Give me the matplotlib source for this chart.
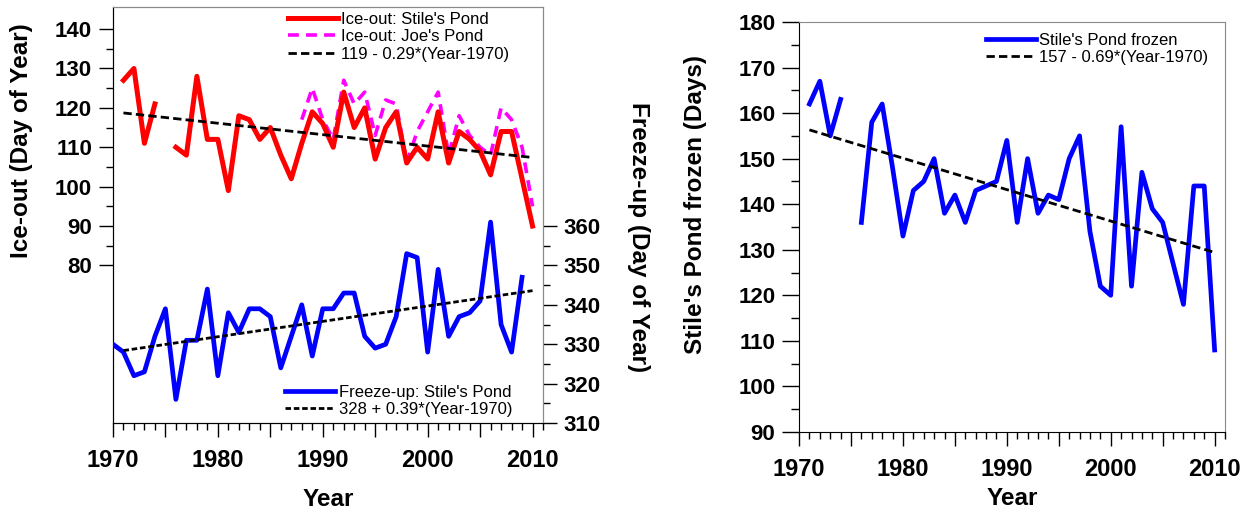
import numpy as np
import matplotlib
matplotlib.use("Agg")
import matplotlib.pyplot as plt
from matplotlib.ticker import MultipleLocator, FixedLocator, FuncFormatter

plt.rcParams['font.family'] = ['Liberation Sans', 'DejaVu Sans']

# ---- data ----
ice_years = np.arange(1971, 2011)
# ice-out, Stile's Pond (day of year); 1975 missing
stiles_ice = [127, 130, 111, 121, np.nan, 110, 108, 128, 112, 112,
              99, 118, 117, 112, 115, 108, 102, 111, 119, 116,
              110, 124, 115, 120, 107, 115, 119, 106, 110, 107,
              119, 106, 114, 112, 109, 103, 114, 114, 102, 90]
joes_years = np.arange(1988, 2011)
joes_ice = [117, 125, 117, 112, 127, 121, 124, 113, 122, 121,
            106, 114, 119, 124, 108, 118, 113, 110, 108, 120,
            117, 110, 95]

freeze_years = np.arange(1970, 2010)
# freeze-up, Stile's Pond (day of year)
stiles_freeze = [330, 328, 322, 323, 332, 339, 316, 331, 331, 344,
                 322, 338, 333, 339, 339, 337, 324, 332, 340, 327,
                 339, 339, 343, 343, 332, 329, 330, 337, 353, 352,
                 328, 349, 332, 337, 338, 341, 361, 335, 328, 347]

# days frozen, Stile's Pond; 1975 missing
stiles_frozen = [162, 167, 155, 163, np.nan, 136, 158, 162, 148, 133,
                 143, 145, 150, 138, 142, 136, 143, 144, 145, 154,
                 136, 150, 138, 142, 141, 150, 155, 134, 122, 120,
                 157, 122, 147, 139, 136, 127, 118, 144, 144, 108]

# linear fits quoted in the legends
ice_fit = (119, -0.29)
freeze_fit = (328, 0.39)
frozen_fit = (157, -0.69)
fit_years = np.array([1971, 2010])

XTICK_FS = 17
YTICK_FS = 16
LAB_FS = 17.5
LEG_FS = 12
GREY = '#8a8a8a'


def style_x(ax, label_y):
    ax.set_xlim(1970, 2011)
    ax.xaxis.set_major_locator(MultipleLocator(5))
    ax.xaxis.set_minor_locator(MultipleLocator(1))
    ax.xaxis.set_major_formatter(FuncFormatter(
        lambda v, p: '%d' % v if int(round(v)) % 10 == 0 else ''))
    ax.tick_params(axis='x', which='major', length=10, width=1, direction='out',
                   labelsize=XTICK_FS, pad=9)
    ax.tick_params(axis='x', which='minor', length=5, width=1, direction='out')
    for t in ax.get_xticklabels():
        t.set_fontweight('bold')
    ax.set_xlabel('Year', fontsize=LAB_FS, fontweight='bold', va='center')
    ax.xaxis.set_label_coords(0.5, label_y)


fig = plt.figure(figsize=(12.55, 5.12), dpi=100)

# ---------------- left panel ----------------
ax1 = fig.add_axes([0.0900, 0.1738, 0.3427, 0.8125])
ax2 = ax1.twinx()

ax1.plot(ice_years, stiles_ice, color='#ff0000', lw=3.6,
         label="Ice-out: Stile's Pond", zorder=3)
ax1.plot(joes_years, joes_ice, color='#ff00ff', lw=2.6, dashes=(3, 2),
         label="Ice-out: Joe's Pond", zorder=2)
ax1.plot(fit_years, ice_fit[0] + ice_fit[1] * (fit_years - 1970), color='black',
         lw=2, dashes=(3, 1.5), label='119 - 0.29*(Year-1970)', zorder=4)

ax2.plot(freeze_years, stiles_freeze, color='#0000ff', lw=3.4,
         label="Freeze-up: Stile's Pond", zorder=3)
ax2.plot(fit_years, freeze_fit[0] + freeze_fit[1] * (fit_years - 1970),
         color='black', lw=2, dashes=(2, 1), label='328 + 0.39*(Year-1970)',
         zorder=4)

ax1.set_ylim(40, 145.6)
ax2.set_ylim(310, 415.6)
ax1.yaxis.set_major_locator(FixedLocator(np.arange(80, 141, 10)))
ax1.yaxis.set_minor_locator(FixedLocator(np.arange(85, 140, 10)))
ax2.yaxis.set_major_locator(FixedLocator(np.arange(310, 361, 10)))
ax2.yaxis.set_minor_locator(FixedLocator(np.arange(315, 360, 10)))
for a in (ax1, ax2):
    a.tick_params(axis='y', which='major', length=10, width=1, labelsize=YTICK_FS, pad=5)
    a.tick_params(axis='y', which='minor', length=5, width=1)
    for t in a.get_yticklabels():
        t.set_fontweight('bold')
ax1.set_ylabel('Ice-out (Day of Year)', fontsize=LAB_FS, fontweight='bold',
               va='center', ha='center')
ax1.yaxis.set_label_coords(-0.2116, 0.678)
ax2.set_ylabel('Freeze-up (Day of Year)', fontsize=LAB_FS, fontweight='bold',
               rotation=270, va='center', ha='center')
ax2.yaxis.set_label_coords(1.221, 0.447)
style_x(ax1, -0.183)
for a in (ax1, ax2):
    a.spines['top'].set_color(GREY)
    a.spines['right'].set_color(GREY)

leg1 = ax1.legend(loc='upper left', bbox_to_anchor=(0.2295, 0.977),
                  bbox_transform=fig.transFigure, frameon=False, fontsize=LEG_FS,
                  handlelength=3.0, handletextpad=0.15, labelspacing=0.15,
                  borderaxespad=0, borderpad=0)
leg1.set_zorder(10)
ax2.legend(loc='lower left', bbox_to_anchor=(0.227, 0.185),
           bbox_transform=fig.transFigure, frameon=False, fontsize=LEG_FS,
           handlelength=3.0, handletextpad=0.25, labelspacing=0.15,
           borderaxespad=0, borderpad=0)

# ---------------- right panel ----------------
ax3 = fig.add_axes([0.6367, 0.1563, 0.3394, 0.8008])
ax3.plot(ice_years, stiles_frozen, color='#0000ff', lw=3.4,
         label="Stile's Pond frozen", zorder=3)
ax3.plot(fit_years, frozen_fit[0] + frozen_fit[1] * (fit_years - 1970),
         color='black', lw=2, dashes=(3, 1.5), label='157 - 0.69*(Year-1970)',
         zorder=4)
ax3.set_ylim(90, 180)
ax3.yaxis.set_major_locator(MultipleLocator(10))
ax3.yaxis.set_minor_locator(MultipleLocator(5))
ax3.tick_params(axis='y', which='major', length=12, width=1, labelsize=YTICK_FS, pad=5)
ax3.tick_params(axis='y', which='minor', length=6, width=1)
for t in ax3.get_yticklabels():
    t.set_fontweight('bold')
ax3.set_ylabel("Stile's Pond frozen (Days)", fontsize=LAB_FS, fontweight='bold',
               va='center', ha='center')
ax3.yaxis.set_label_coords(-0.244, 0.554)
style_x(ax3, -0.163)
ax3.spines['top'].set_color(GREY)
ax3.spines['right'].set_color(GREY)
ax3.legend(loc='upper left', bbox_to_anchor=(0.786, 0.936),
           bbox_transform=fig.transFigure, frameon=False, fontsize=LEG_FS,
           handlelength=3.0, handletextpad=0.15, labelspacing=0.15,
           borderaxespad=0, borderpad=0)

fig.savefig('out.png', dpi=100)
